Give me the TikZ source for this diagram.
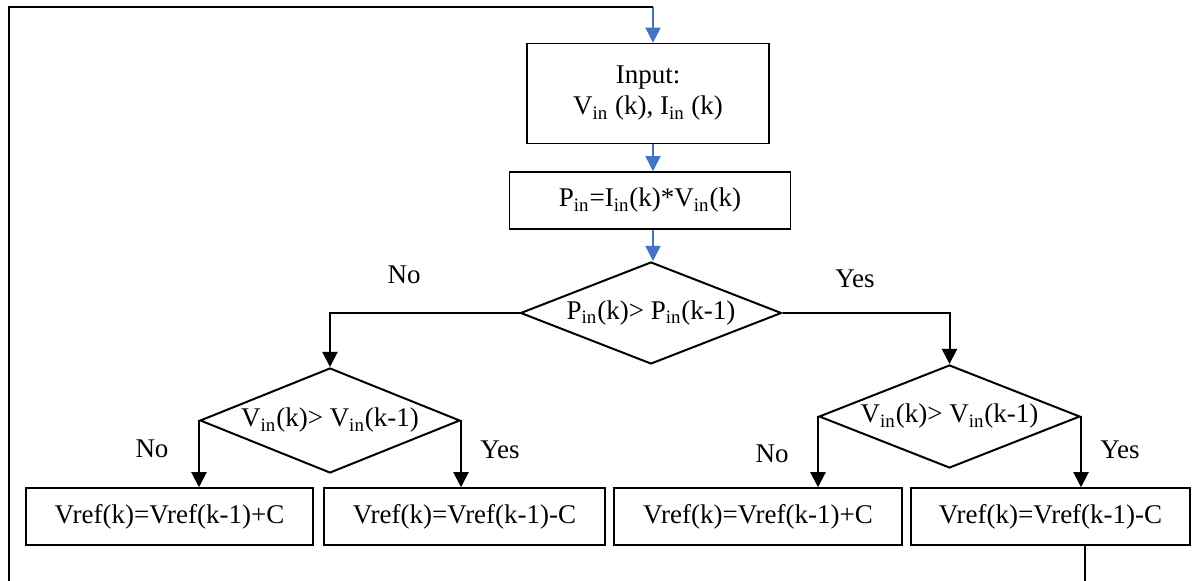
\documentclass[tikz,border=0pt]{standalone}
\usepackage{fontspec}
\setmainfont{Liberation Serif}
\usetikzlibrary{arrows.meta, positioning, shapes.geometric}
\definecolor{flowblue}{RGB}{68,114,196}
\newcommand{\flowfont}{\fontsize{13.5}{15.5}\selectfont}
\newcommand{\dtext}[1]{\raisebox{-2pt}{\makebox[0pt]{#1}}}

\tikzset{
  box/.style={draw, line width=0.75pt, minimum height=28.5pt, inner sep=0pt, font=\flowfont},
  decision/.style={draw, diamond, line width=1pt, inner sep=0pt, font=\flowfont},
  arr/.style={line width=1pt, -{Triangle[length=7.5pt, width=7.5pt]}},
  bluearr/.style={flowblue, line width=0.7pt, -{Triangle[length=7.5pt, width=7.5pt]}},
  lbl/.style={font=\flowfont},
}

\begin{document}
\begin{tikzpicture}[x=0.5pt, y=-0.5pt]
    \useasboundingbox (0,0) rectangle (1192,581);
    % input and power
    \node[box, minimum width=121pt, minimum height=50pt, align=center] (in) at (648,93.5) {Input:\\V\textsubscript{in} (k), I\textsubscript{in} (k)};
    \node[box, minimum width=140.5pt] (pw) at (650,200.5) {P\textsubscript{in}=I\textsubscript{in}(k)*V\textsubscript{in}(k)};
    % decisions
    \node[decision, minimum width=130.5pt, minimum height=51pt] (d1) at (651,313) {\dtext{P\textsubscript{in}(k)> P\textsubscript{in}(k-1)}};
    \node[decision, minimum width=130pt, minimum height=52.5pt] (d2) at (330,420.5) {\dtext{V\textsubscript{in}(k)> V\textsubscript{in}(k-1)}};
    \node[decision, minimum width=130.5pt, minimum height=51.5pt] (d3) at (949.5,416.5) {\dtext{V\textsubscript{in}(k)> V\textsubscript{in}(k-1)}};
    % updates
    \node[box, minimum width=143.5pt] (b1) at (169.5,516.5) {Vref(k)=Vref(k-1)+C};
    \node[box, minimum width=140.5pt] (b2) at (464.5,516.5) {Vref(k)=Vref(k-1)-C};
    \node[box, minimum width=144pt] (b3) at (758,516.5) {Vref(k)=Vref(k-1)+C};
    \node[box, minimum width=139.5pt] (b4) at (1050.5,516.5) {Vref(k)=Vref(k-1)-C};
    % branch labels
    \node[lbl] (no1) at (404,275) {No};
    \node[lbl] (yes1) at (855,279) {Yes};
    \node[lbl] (no2) at (152,449) {No};
    \node[lbl] (yes2) at (500,450) {Yes};
    \node[lbl] (no3) at (772,454) {No};
    \node[lbl] (yes3) at (1120,450) {Yes};
    % connectors
    \coordinate (top) at (653,7);
    \coordinate (back) at (1085,0);
    \draw[bluearr] (top) -- (top |- in.north);
    \draw[bluearr] (top |- in.south) -- (top |- pw.north);
    \draw[bluearr] (top |- pw.south) -- (top |- d1.north);
    \draw[arr] (d1.west) -| (d2.north);
    \draw[arr] (d1.east) -| (d3.north);
    \draw[arr] (d2.west) -- (d2.west |- b1.north);
    \draw[arr] (d2.east) -- (d2.east |- b2.north);
    \draw[arr] (d3.west) -- (d3.west |- b3.north);
    \draw[arr] (d3.east) -- (d3.east |- b4.north);
    % feedback loop
    \draw[line width=1pt] (back |- b4.south) -- ++(0,55) -| (9,7) -- (top);
\end{tikzpicture}
\end{document}
